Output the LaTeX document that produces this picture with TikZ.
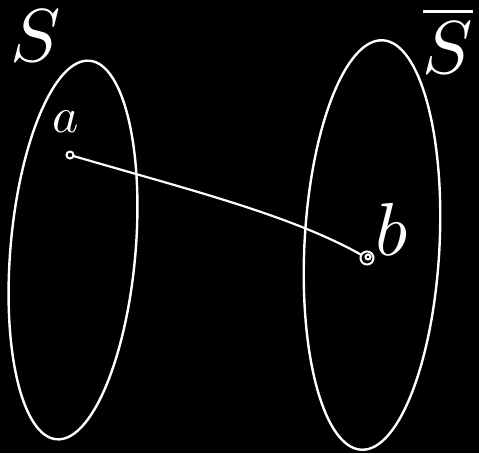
\documentclass[tikz,border=0pt]{standalone}
\usepackage{tikz}
\usetikzlibrary{shapes.geometric}

\begin{document}
\begin{tikzpicture}[x=1pt,y=-1pt,
    blob/.style={ellipse,draw=white,line width=2.4pt,inner sep=0pt},
    pt/.style={circle,draw=white,line width=2pt,inner sep=0pt},
    lbl/.style={text=white,inner sep=0pt},
    link/.style={white,line width=2.2pt,line cap=round}]
    \fill[black] (0,0) rectangle (479,453);
    \useasboundingbox (0,0) rectangle (479,453);
    % the two sets
    \node[blob,minimum width=125pt,minimum height=380pt,rotate=-5] (setS) at (73,250) {};
    \node[blob,minimum width=135pt,minimum height=410pt,rotate=-3] (setT) at (372,245) {};
    \node[lbl,scale=7.5] (nameS) at (36,36) {$S$};
    \node[lbl,scale=7.5] (nameT) at (448,40) {$\overline{S}$};
    % points and the edge between them
    \node[pt,minimum size=7pt] (a) at (70,155) {};
    \node[pt,minimum size=13pt] (b) at (367,258) {};
    \node[pt,minimum size=5pt] (bin) at (368,257) {};
    \node[lbl,scale=5] (la) at (66,122) {$a$};
    \node[lbl,scale=7.5] (lb) at (392,229) {$b$};
    \draw[link] (a) .. controls (190,190) and (290,215) .. (b);
\end{tikzpicture}
\end{document}
